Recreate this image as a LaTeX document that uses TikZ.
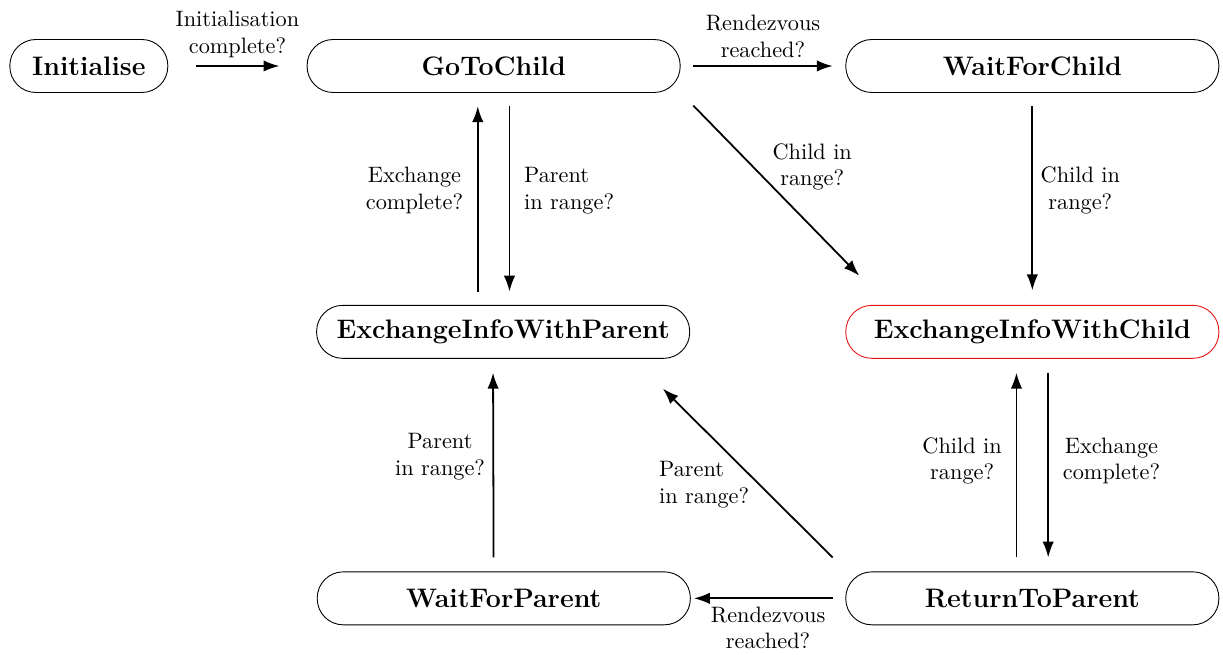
\documentclass[tikz,border=0pt]{standalone}
\usepackage{xcolor}
\usepackage{tikz}
\usetikzlibrary{arrows.meta,calc,positioning}
\definecolor{stateblack}{RGB}{0,0,0}
\definecolor{activered}{RGB}{230,20,20}
\tikzset{
  statebox/.style={draw=stateblack,rounded corners=4.1mm,thin,fill=white,
    font=\large\bfseries,minimum width=5.88cm,minimum height=0.835cm,
    align=center,inner sep=3pt},
  activebox/.style={statebox,draw=activered},
  flow/.style={-{Latex[length=2.5mm,width=1.8mm]},thick,draw=stateblack},
  edgelabel/.style={font=\normalsize,align=center}
}

\begin{document}
\begin{tikzpicture}
  \useasboundingbox (0,0) rectangle (19.275,-10.323);
  % states
  \node[statebox,minimum width=2.49cm] (init) at (1.40,-1.04) {Initialise};
  \node[statebox] (gotochild) at (7.78,-1.04) {GoToChild};
  \node[statebox] (waitchild) at (16.27,-1.04) {WaitForChild};
  \node[statebox] (xparent) at (7.93,-5.23) {ExchangeInfoWithParent};
  \node[activebox] (xchild) at (16.27,-5.23) {ExchangeInfoWithChild};
  \node[statebox] (waitparent) at (7.94,-9.43) {WaitForParent};
  \node[statebox] (return) at (16.27,-9.43) {ReturnToParent};
  % top row
  \draw[flow,shorten <=4.4mm,shorten >=4.3mm] (init) -- (gotochild)
    node[edgelabel,midway,above] {Initialisation\\complete?};
  \draw[flow,shorten <=2mm,shorten >=2mm] (gotochild) -- (waitchild)
    node[edgelabel,midway,above] {Rendezvous\\reached?};
  % parent exchange
  \draw[flow,shorten <=2.1mm,shorten >=2.1mm]
    ([xshift=-2.5mm]gotochild.south |- xparent.north)
    -- ([xshift=-2.5mm]gotochild.south)
    node[edgelabel,pos=0.54,left=1mm] {Exchange\\complete?};
  \draw[flow,shorten <=2.1mm,shorten >=2.1mm]
    ([xshift=2.5mm]gotochild.south)
    -- ([xshift=2.5mm]gotochild.south |- xparent.north)
    node[edgelabel,align=left,pos=0.46,right=1mm] {Parent\\in range?};
  \draw[flow,shorten <=2.2mm,shorten >=2.2mm]
    ([xshift=-1.6mm]waitparent.north) -- ([xshift=-1.6mm]xparent.south)
    node[edgelabel,pos=0.54,left] {Parent\\in range?};
  % child exchange
  \draw[flow] ([shift={(2mm,-2mm)}]gotochild.south east)
    -- ([shift={(2.2mm,4.6mm)}]xchild.north west)
    node[edgelabel,pos=0.36,right=5pt] {Child in\\range?};
  \draw[flow,shorten <=2.1mm,shorten >=2.3mm] (waitchild) -- (xchild)
    node[edgelabel,pos=0.46,right] {Child in\\range?};
  \draw[flow,shorten <=2.2mm,shorten >=2.2mm]
    ([xshift=-2.5mm]return.north) -- ([xshift=-2.5mm]xchild.south)
    node[edgelabel,pos=0.52,left=1mm] {Child in\\range?};
  \draw[flow,shorten <=2.2mm,shorten >=2.2mm]
    ([xshift=2.5mm]xchild.south) -- ([xshift=2.5mm]return.north)
    node[edgelabel,pos=0.48,right=1mm] {Exchange\\complete?};
  % return to parent
  \draw[flow] ([shift={(-2mm,2.2mm)}]return.north west)
    -- ([shift={(-4.3mm,-4.7mm)}]xparent.south east)
    node[edgelabel,align=left,pos=0.43,left=1pt] {Parent\\in range?};
  \draw[flow,shorten <=2mm,shorten >=0.5mm] (return) -- (waitparent)
    node[edgelabel,midway,below] {Rendezvous\\reached?};
\end{tikzpicture}
\end{document}
